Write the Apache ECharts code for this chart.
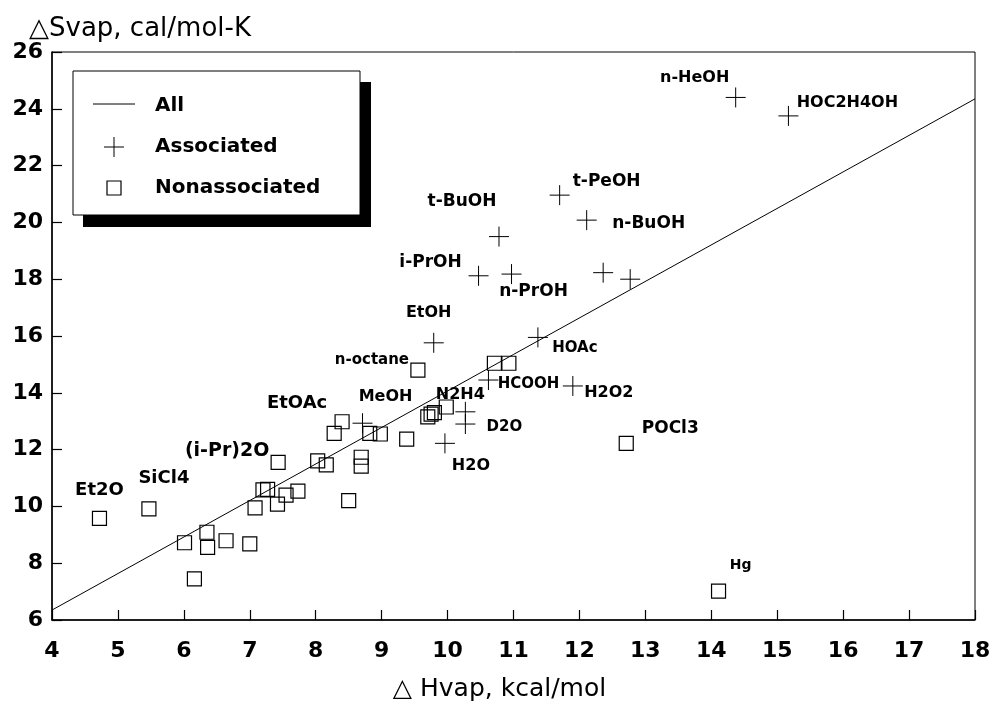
<!DOCTYPE html>
<html>
<head>
<meta charset="utf-8">
<script src="https://cdn.jsdelivr.net/npm/echarts@6/dist/echarts.min.js"></script>
<style>
  html, body { margin: 0; padding: 0; background: #fff; }
  #main { width: 990px; height: 703px; }
</style>
</head>
<body>
<div id="main"></div>
<script>
// Associated liquids (crosses)
var assocNames = ['n-HeOH', 'HOC2H4OH', 't-PeOH', 'n-BuOH', 't-BuOH', 'i-PrOH', 'n-PrOH', '', '',
    'EtOH', 'HOAc', 'HCOOH', 'H2O2', 'N2H4', 'D2O', 'H2O', 'MeOH'];
var assocX = [14.37, 15.17, 11.70, 12.11, 10.78, 10.47, 10.97, 12.36, 12.77,
    9.79, 11.37, 10.62, 11.90, 10.27, 10.27, 9.96, 8.71];
var assocY = [24.40, 23.75, 20.96, 20.08, 19.50, 18.12, 18.18, 18.23, 18.00,
    15.76, 15.95, 14.45, 14.24, 13.33, 12.90, 12.22, 12.93];

// Nonassociated liquids (squares)
var nonNames = ['Et2O', 'SiCl4', '', '', '', '', '', '', '', '', '', '', '', '',
    '(i-Pr)2O', '', '', '', 'EtOAc', '', '', '', '', '', '', '', '', '', '',
    'n-octane', '', '', 'POCl3', 'Hg'];
var nonX = [4.72, 5.47, 6.01, 6.35, 6.36, 6.64, 6.16, 7.00, 7.08, 7.20, 7.27, 7.42, 7.55, 7.73,
    7.43, 8.03, 8.16, 8.28, 8.40, 8.82, 8.98, 8.69, 8.69, 8.50, 9.38, 9.70, 9.75, 9.80, 9.98,
    9.55, 10.71, 10.93, 12.71, 14.11];
var nonY = [9.58, 9.91, 8.72, 9.09, 8.56, 8.79, 7.45, 8.68, 9.95, 10.58, 10.60, 10.08, 10.40, 10.54,
    11.55, 11.60, 11.46, 12.57, 12.98, 12.57, 12.55, 11.73, 11.42, 10.20, 12.37, 13.15, 13.25, 13.30, 13.50,
    14.80, 15.04, 15.04, 12.22, 7.02];

// Fitted line "All"
var fitX = [4, 18];
var fitY = [6.35, 24.35];

// label placement (pixel offset from the mark) and font size
var labelStyle = {
    'n-HeOH': [-41, -20, 16], 'HOC2H4OH': [59, -13, 16], 't-PeOH': [47, -14, 17],
    'n-BuOH': [62, 3, 17], 't-BuOH': [-37, -35, 17], 'i-PrOH': [-48, -13, 17],
    'n-PrOH': [22, 17, 17], 'EtOH': [-5, -30, 16], 'HOAc': [37, 11, 15],
    'HCOOH': [40, 4, 15], 'H2O2': [36, 7, 16], 'N2H4': [-5, -17, 16],
    'D2O': [39, 3, 15], 'H2O': [26, 22, 16], 'MeOH': [23, -26, 16],
    'n-octane': [-46, -10, 15], 'POCl3': [44, -15, 17], 'Hg': [22, -26, 14],
    'EtOAc': [-45, -18, 18], '(i-Pr)2O': [-51, -11, 19], 'SiCl4': [15, -31, 18],
    'Et2O': [0, -28, 18]
};

var FONT = '"DejaVu Sans", sans-serif';

function buildPoints(names, xs, ys) {
    return xs.map(function (x, i) {
        var item = { name: names[i], value: [x, ys[i]] };
        var s = labelStyle[names[i]];
        if (s) {
            item.label = {
                show: true, position: 'inside', align: 'center', verticalAlign: 'middle',
                offset: [s[0], s[1]], fontSize: s[2], fontWeight: 'bold',
                fontFamily: FONT, color: '#000', textBorderWidth: 0, formatter: '{b}'
            };
        }
        return item;
    });
}

var chart = echarts.init(document.getElementById('main'));
chart.setOption({
    backgroundColor: '#fff',
    animation: false,
    title: {
        text: '\u25B3Svap, cal/mol-K',
        left: 29, top: 16, padding: 0,
        textStyle: { fontFamily: FONT, fontSize: 26, fontWeight: 'normal', color: '#000' }
    },
    grid: {
        left: 52, right: 15, top: 52, bottom: 83, outerBoundsMode: 'none',
        show: true, borderColor: '#000', borderWidth: 1
    },
    xAxis: {
        type: 'value', min: 4, max: 18, interval: 1,
        name: '\u25B3 Hvap, kcal/mol', nameLocation: 'middle', nameGap: 57,
        nameTextStyle: { fontFamily: FONT, fontSize: 25, color: '#000', padding: [0, 28, 0, 0] },
        axisLine: { lineStyle: { color: '#000', width: 1.5 } },
        axisTick: { inside: true, length: 10, lineStyle: { color: '#000', width: 1.2 } },
        axisLabel: { margin: 20, fontFamily: FONT, fontSize: 22, fontWeight: 'bold', color: '#000' },
        splitLine: { show: false }
    },
    yAxis: {
        type: 'value', min: 6, max: 26, interval: 2,
        axisLine: { lineStyle: { color: '#000', width: 1.5 } },
        axisTick: { inside: true, length: 10, lineStyle: { color: '#000', width: 1.2 } },
        axisLabel: { margin: 9, fontFamily: FONT, fontSize: 22, fontWeight: 'bold', color: '#000' },
        splitLine: { show: false }
    },
    series: [
        {
            name: 'All', type: 'line', symbol: 'none', silent: true,
            data: fitX.map(function (x, i) { return [x, fitY[i]]; }),
            lineStyle: { color: '#000', width: 1 }
        },
        {
            name: 'Associated', type: 'scatter', silent: true,
            symbol: 'path://M0,10L20,10M10,0L10,20', symbolSize: 20,
            itemStyle: { color: 'none', borderColor: '#000', borderWidth: 1, opacity: 1 },
            data: buildPoints(assocNames, assocX, assocY)
        },
        {
            name: 'Nonassociated', type: 'scatter', silent: true,
            symbol: 'rect', symbolSize: 14,
            itemStyle: { color: 'transparent', borderColor: '#000', borderWidth: 1.2, opacity: 1 },
            data: buildPoints(nonNames, nonX, nonY)
        }
    ],
    graphic: [
        { type: 'rect', z: 100, shape: { x: 83, y: 82, width: 288, height: 145 }, style: { fill: '#000' } },
        { type: 'rect', z: 101, shape: { x: 73, y: 71, width: 287, height: 144 }, style: { fill: '#fff', stroke: '#000', lineWidth: 1 } },
        { type: 'line', z: 102, shape: { x1: 93, y1: 104, x2: 135, y2: 104 }, style: { stroke: '#000', lineWidth: 1 } },
        { type: 'line', z: 102, shape: { x1: 104, y1: 147, x2: 124, y2: 147 }, style: { stroke: '#000', lineWidth: 1 } },
        { type: 'line', z: 102, shape: { x1: 114, y1: 137, x2: 114, y2: 157 }, style: { stroke: '#000', lineWidth: 1 } },
        { type: 'rect', z: 102, shape: { x: 107, y: 181, width: 14, height: 14 }, style: { fill: 'none', stroke: '#000', lineWidth: 1.2 } },
        { type: 'text', z: 102, x: 155, y: 106, style: { text: 'All', fontFamily: FONT, fontSize: 20, fontWeight: 'bold', fill: '#000', verticalAlign: 'middle' } },
        { type: 'text', z: 102, x: 155, y: 147, style: { text: 'Associated', fontFamily: FONT, fontSize: 20, fontWeight: 'bold', fill: '#000', verticalAlign: 'middle' } },
        { type: 'text', z: 102, x: 155, y: 188, style: { text: 'Nonassociated', fontFamily: FONT, fontSize: 20, fontWeight: 'bold', fill: '#000', verticalAlign: 'middle' } }
    ]
});
</script>
</body>
</html>
